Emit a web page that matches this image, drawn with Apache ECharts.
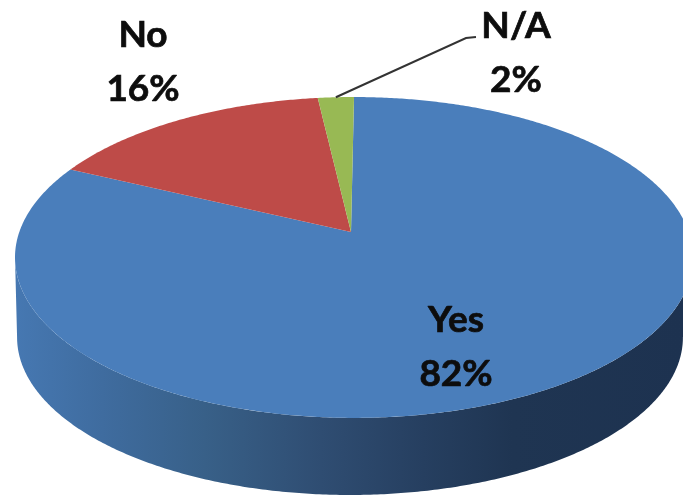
<!DOCTYPE html>
<html><head><meta charset="utf-8">
<style>html,body{margin:0;padding:0;background:#fff}#c{width:683px;height:499px}#c canvas{filter:blur(0.6px)}</style>
<script src="https://cdn.jsdelivr.net/npm/echarts@6/dist/echarts.min.js"></script>
</head><body><div id="c"></div>
<script>
const categories = ['Yes', 'No', 'N/A'];
const values = [82, 16, 2];
const sliceColors = ['#4a7ebb', '#be4b48', '#98b954'];

const apex = [351, 232];
const topRim = {x: 354, y: 232, a: 334.7, b: 156.4};
const lowRim = {x: 350, y: 312.4, a: 328.7, b: 153.6};
const k = 0.1587;
const sideFrom = 99, sideTo = 261;
const sideFill = {type: 'linear', x: 0, y: 0, x2: 683, y2: 0, global: true, colorStops: [
  {offset: 0.02, color: '#4678b2'}, {offset: 0.15, color: '#3f6c9f'}, {offset: 0.3, color: '#386088'},
  {offset: 0.47, color: '#2f4d72'}, {offset: 0.62, color: '#263f60'}, {offset: 0.75, color: '#1f3552'}, {offset: 1, color: '#1d3250'}
]};
const labelAt = [[456, 347], [143, 62], [516, 53]];
const total = values.reduce((s, v) => s + v, 0);

function rim(r, deg) {
  const t = deg * Math.PI / 180, u = Math.sin(t), v = Math.cos(t), w = 1 + k * v;
  return [r.x + r.a * u / w, r.y - r.b * v / w];
}
function arc(r, from, to) {
  const pts = [], n = Math.max(2, Math.ceil(Math.abs(to - from) * 2));
  for (let i = 0; i <= n; i++) pts.push(rim(r, from + (to - from) * i / n));
  return pts;
}
function renderItem(params, api) {
  const i = params.dataIndex;
  const start = values.slice(0, i).reduce((s, v) => s + v, 0) / total * 360;
  const end = start + api.value(1) / total * 360;
  const children = [];
  const a = Math.max(start, sideFrom), b = Math.min(end, sideTo);
  if (b > a) {
    children.push({type: 'polygon', z2: 1,
      shape: {points: arc(topRim, a, b).concat(arc(lowRim, b, a))},
      style: {fill: sideFill}});
  }
  children.push({type: 'polygon', z2: 2,
    shape: {points: [apex].concat(arc(topRim, start, end))},
    style: {fill: sliceColors[i]}});
  children.push({type: 'text', z2: 5, x: labelAt[i][0], y: labelAt[i][1],
    style: {text: categories[i] + '\n' + api.value(1) + '%', fill: '#0d0d0d', align: 'center', verticalAlign: 'middle',
      font: 'bold 37px Lato', lineHeight: 54, stroke: '#0d0d0d', lineWidth: 0.7}});
  if (categories[i] === 'N/A') {
    children.push({type: 'polyline', z2: 4,
      shape: {points: [rim(topRim, (start + end) / 2), [466, 38], [476, 37]]},
      style: {fill: 'none', stroke: '#333', lineWidth: 2}});
  }
  return {type: 'group', children};
}
const chart = echarts.init(document.getElementById('c'), null, {renderer: 'canvas'});
chart.setOption({
  animation: false,
  series: [{type: 'custom', coordinateSystem: 'none', renderItem, silent: true,
    data: categories.map((c, i) => [c, values[i]]), clip: false}]
});
</script></body></html>
